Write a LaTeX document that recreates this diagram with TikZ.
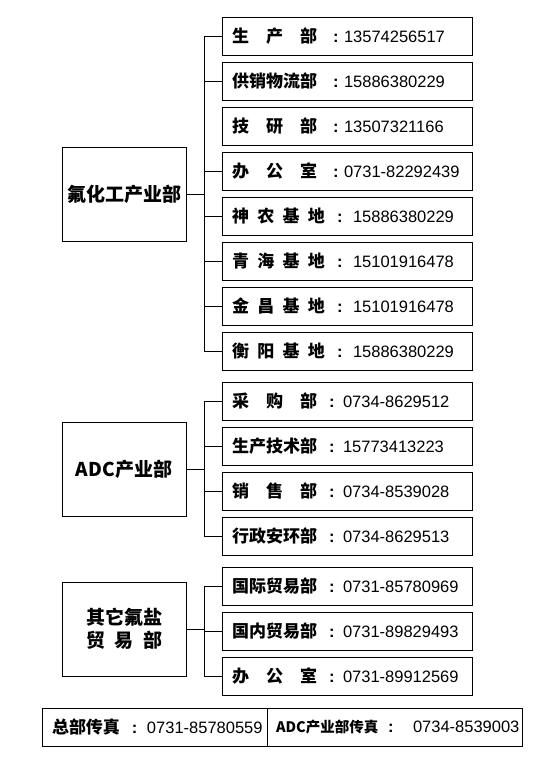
\documentclass[tikz,border=0pt]{standalone}
\usepackage{fontspec}
\setmainfont{Liberation Sans}
\newfontfamily\cjk{Noto Sans CJK SC}
\usetikzlibrary{positioning,calc}

% label width, colon column, number column, label, number
\newcommand{\tel}[5]{\mbox{\makebox[#3][l]{\makebox[#2][l]{\makebox[#1][s]{\cjk\bfseries\fontsize{17}{20}\selectfont #4}}\textbf{:}}#5}}
\newcommand{\telA}[2]{\tel{85pt}{101pt}{112pt}{#1}{#2}}
\newcommand{\telB}[2]{\tel{93pt}{105pt}{121pt}{#1}{#2}}
\newcommand{\telC}[2]{\tel{85pt}{97pt}{111pt}{#1}{#2}}

\begin{document}
\begin{tikzpicture}[
  x=1pt, y=-1pt,
  node distance=6pt,
  deptbox/.style={rectangle, draw, line width=1pt, minimum width=124pt, minimum height=94pt, align=center, font=\cjk\bfseries\fontsize{19}{23}\selectfont},
  telbox/.style={rectangle, draw, line width=1pt, text width=230pt, inner xsep=10pt, inner ysep=0pt, minimum height=38pt, align=left, font=\fontsize{16.5}{20}\selectfont},
  faxbox/.style={rectangle, draw, line width=1pt, inner ysep=0pt, minimum height=38pt, align=left, font=\fontsize{16.5}{20}\selectfont},
  link/.style={line width=1pt}
]
  \useasboundingbox (0,0) rectangle (560,761);

  % fluorine chemicals
  \node[deptbox] (fc) at (124,194) {氟化工产业部};
  \node[telbox] (fc1) at (347,36) {\telA{生\hfill 产\hfill 部}{13574256517}};
  \node[telbox, below=of fc1] (fc2) {\telA{供销物流部}{15886380229}};
  \node[telbox, below=of fc2] (fc3) {\telA{技\hfill 研\hfill 部}{13507321166}};
  \node[telbox, below=of fc3] (fc4) {\telA{办\hfill 公\hfill 室}{0731-82292439}};
  \node[telbox, below=of fc4] (fc5) {\telB{神\hfill 农\hfill 基\hfill 地}{15886380229}};
  \node[telbox, below=of fc5] (fc6) {\telB{青\hfill 海\hfill 基\hfill 地}{15101916478}};
  \node[telbox, below=of fc6] (fc7) {\telB{金\hfill 昌\hfill 基\hfill 地}{15101916478}};
  \node[telbox, below=of fc7] (fc8) {\telB{衡\hfill 阳\hfill 基\hfill 地}{15886380229}};

  % ADC
  \node[deptbox] (adc) at (124,469) {ADC产业部};
  \node[telbox] (adc1) at (347,401) {\telC{采\hfill 购\hfill 部}{0734-8629512}};
  \node[telbox, below=of adc1] (adc2) {\telC{生产技术部}{15773413223}};
  \node[telbox, below=of adc2] (adc3) {\telC{销\hfill 售\hfill 部}{0734-8539028}};
  \node[telbox, below=of adc3] (adc4) {\telC{行政安环部}{0734-8629513}};

  % other salts
  \node[deptbox] (ts) at (124,629) {其它氟盐\\\makebox[76pt][s]{贸\hfill 易\hfill 部}};
  \node[telbox] (ts1) at (347,586) {\telC{国际贸易部}{0731-85780969}};
  \node[telbox, below=of ts1] (ts2) {\telC{国内贸易部}{0731-89829493}};
  \node[telbox, below=of ts2] (ts3) {\telC{办\hfill 公\hfill 室}{0731-89912569}};

  % fax
  \node[faxbox, text width=205pt, inner xsep=10pt] (fax1) at (154.5,727) {\tel{68pt}{80pt}{95pt}{总部传真}{0731-85780559}};
  \node[faxbox, text width=237pt, inner xsep=9pt] (fax2) at (394.5,727) {\tel{92pt}{112pt}{137pt}{\fontsize{14.5}{18}\selectfont ADC产业部传真}{0734-8539003}};

  % connectors
  \coordinate (fcb) at ($(fc.east)!.5!(fc.east -| fc1.west)$);
  \draw[link] (fc.east) -- (fcb);
  \draw[link] (fcb |- fc1.west) -- (fcb |- fc8.west);
  \foreach \i in {1,2,4,5,6,7,8}
    \draw[link] (fcb |- fc\i.west) -- (fc\i.west);

  \coordinate (adcb) at ($(adc.east)!.5!(adc.east -| adc1.west)$);
  \draw[link] (adc.east) -- (adcb);
  \draw[link] (adcb |- adc1.west) -- (adcb |- adc4.west);
  \foreach \i in {1,...,4}
    \draw[link] (adcb |- adc\i.west) -- (adc\i.west);

  \coordinate (tsb) at ($(ts.east)!.5!(ts.east -| ts1.west)$);
  \draw[link] (ts.east) -- (tsb);
  \draw[link] (tsb |- ts1.west) -- (tsb |- ts3.west);
  \foreach \i in {1,...,3}
    \draw[link] (tsb |- ts\i.west) -- (ts\i.west);
\end{tikzpicture}
\end{document}
